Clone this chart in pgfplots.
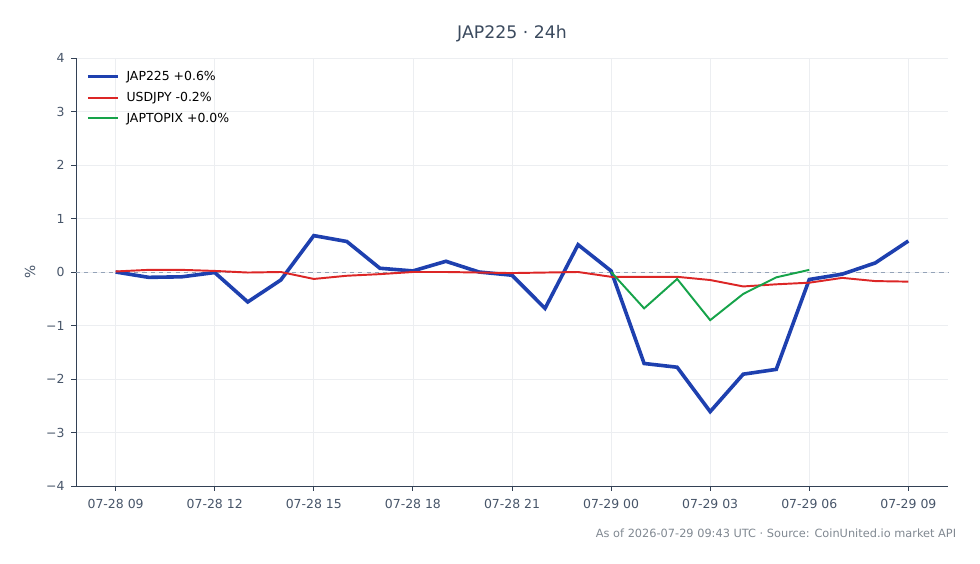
\documentclass[border=0pt]{standalone}
\usepackage{pgfplots}
\pgfplotsset{compat=1.18}
\usepackage{pgfplotstable}
\usepackage{fontspec}
\setmainfont{DejaVu Sans}
\definecolor{cblue}{HTML}{1E40AF}
\definecolor{cred}{HTML}{DC2626}
\definecolor{cgreen}{HTML}{16A34A}
\definecolor{ctitle}{HTML}{3B4A5E}
\definecolor{ctick}{HTML}{475569}
\definecolor{cspine}{HTML}{334155}
\definecolor{cgrid}{HTML}{ECEEF1}
\definecolor{czero}{HTML}{94A3B8}
\definecolor{cfoot}{HTML}{808891}

\pgfplotstableread{
h v
0 0.00
1 -0.10
2 -0.09
3 -0.01
4 -0.56
5 -0.15
6 0.68
7 0.57
8 0.07
9 0.02
10 0.20
11 0.00
12 -0.06
13 -0.68
14 0.51
15 0.02
16 -1.71
17 -1.78
18 -2.61
19 -1.91
20 -1.82
21 -0.14
22 -0.04
23 0.17
24 0.58
}\jap

\pgfplotstableread{
h v
0 0.01
1 0.04
2 0.04
3 0.02
4 -0.01
5 0.00
6 -0.13
7 -0.07
8 -0.04
9 0.00
10 0.00
11 -0.01
12 -0.02
13 -0.01
14 0.00
15 -0.09
16 -0.09
17 -0.09
18 -0.15
19 -0.27
20 -0.23
21 -0.20
22 -0.11
23 -0.17
24 -0.18
}\usd

\pgfplotstableread{
h v
15 0.00
16 -0.68
17 -0.13
18 -0.90
19 -0.41
20 -0.10
21 0.04
}\topix

\begin{document}
\begin{tikzpicture}
\path[use as bounding box] (0,0) rectangle (705.6bp,406.08bp);
\begin{axis}[
  at={(54.72bp,56.16bp)}, anchor=south west,
  scale only axis, width=627.84bp, height=308.16bp,
  xmin=-1.2, xmax=25.2, ymin=-4, ymax=4,
  axis x line*=bottom, axis y line*=left,
  axis line style={draw=cspine, line width=0.6bp},
  tick align=outside, major tick length=3.5bp,
  tick style={draw=cspine, line width=0.6bp},
  xtick={0,3,...,24},
  xticklabels={07-28 09,07-28 12,07-28 15,07-28 18,07-28 21,07-29 00,07-29 03,07-29 06,07-29 09},
  ytick={-4,-3,...,4},
  yticklabels={−4,−3,−2,−1,0,1,2,3,4},
  ticklabel style={font=\fontsize{9}{11}\selectfont, text=ctick},
  xticklabel style={yshift=-2.5bp},
  yticklabel style={xshift=-1.2bp},
  grid=major, grid style={draw=cgrid, line width=0.5bp},
  legend cell align=left,
  legend style={at={(rel axis cs:0,1)}, anchor=north west, xshift=4bp, yshift=-5.2bp,
    draw=none, fill=none, font=\fontsize{9}{11}\selectfont, row sep=2.9bp},
  legend image code/.code={\draw[#1] (0bp,0bp) -- (21.6bp,0bp);},
  clip=false,
]
\addplot[czero, dashed, line width=0.7bp, forget plot] coordinates {(-1.2,0) (25.2,0)};
\addplot[cblue, line width=2.6bp, line join=miter] table[x=h,y=v] {\jap};
\addlegendentry{\hspace{3bp}JAP225 +0.6\%}
\addplot[cred, line width=1.4bp] table[x=h,y=v] {\usd};
\addlegendentry{\hspace{3bp}USDJPY -0.2\%}
\addplot[cgreen, line width=1.4bp] table[x=h,y=v] {\topix};
\addlegendentry{\hspace{3bp}JAPTOPIX +0.0\%}
\node[font=\fontsize{12.5}{14}\selectfont, text=ctitle, anchor=base] at (rel axis cs:0.5,1) [yshift=14bp] {JAP225 · 24h};
\path (rel axis cs:0,0.5) ++(-33bp,0bp) node[font=\fontsize{10}{12}\selectfont, text=ctick, rotate=90, anchor=center] {\%};
\node[font=\fontsize{8.2}{10}\selectfont, text=cfoot, anchor=base east] at (rel axis cs:1,0) [xshift=9.4bp, yshift=-37bp] {As of 2026-07-29 09:43 UTC · Source: CoinUnited.io market API};
\end{axis}
\end{tikzpicture}
\end{document}
